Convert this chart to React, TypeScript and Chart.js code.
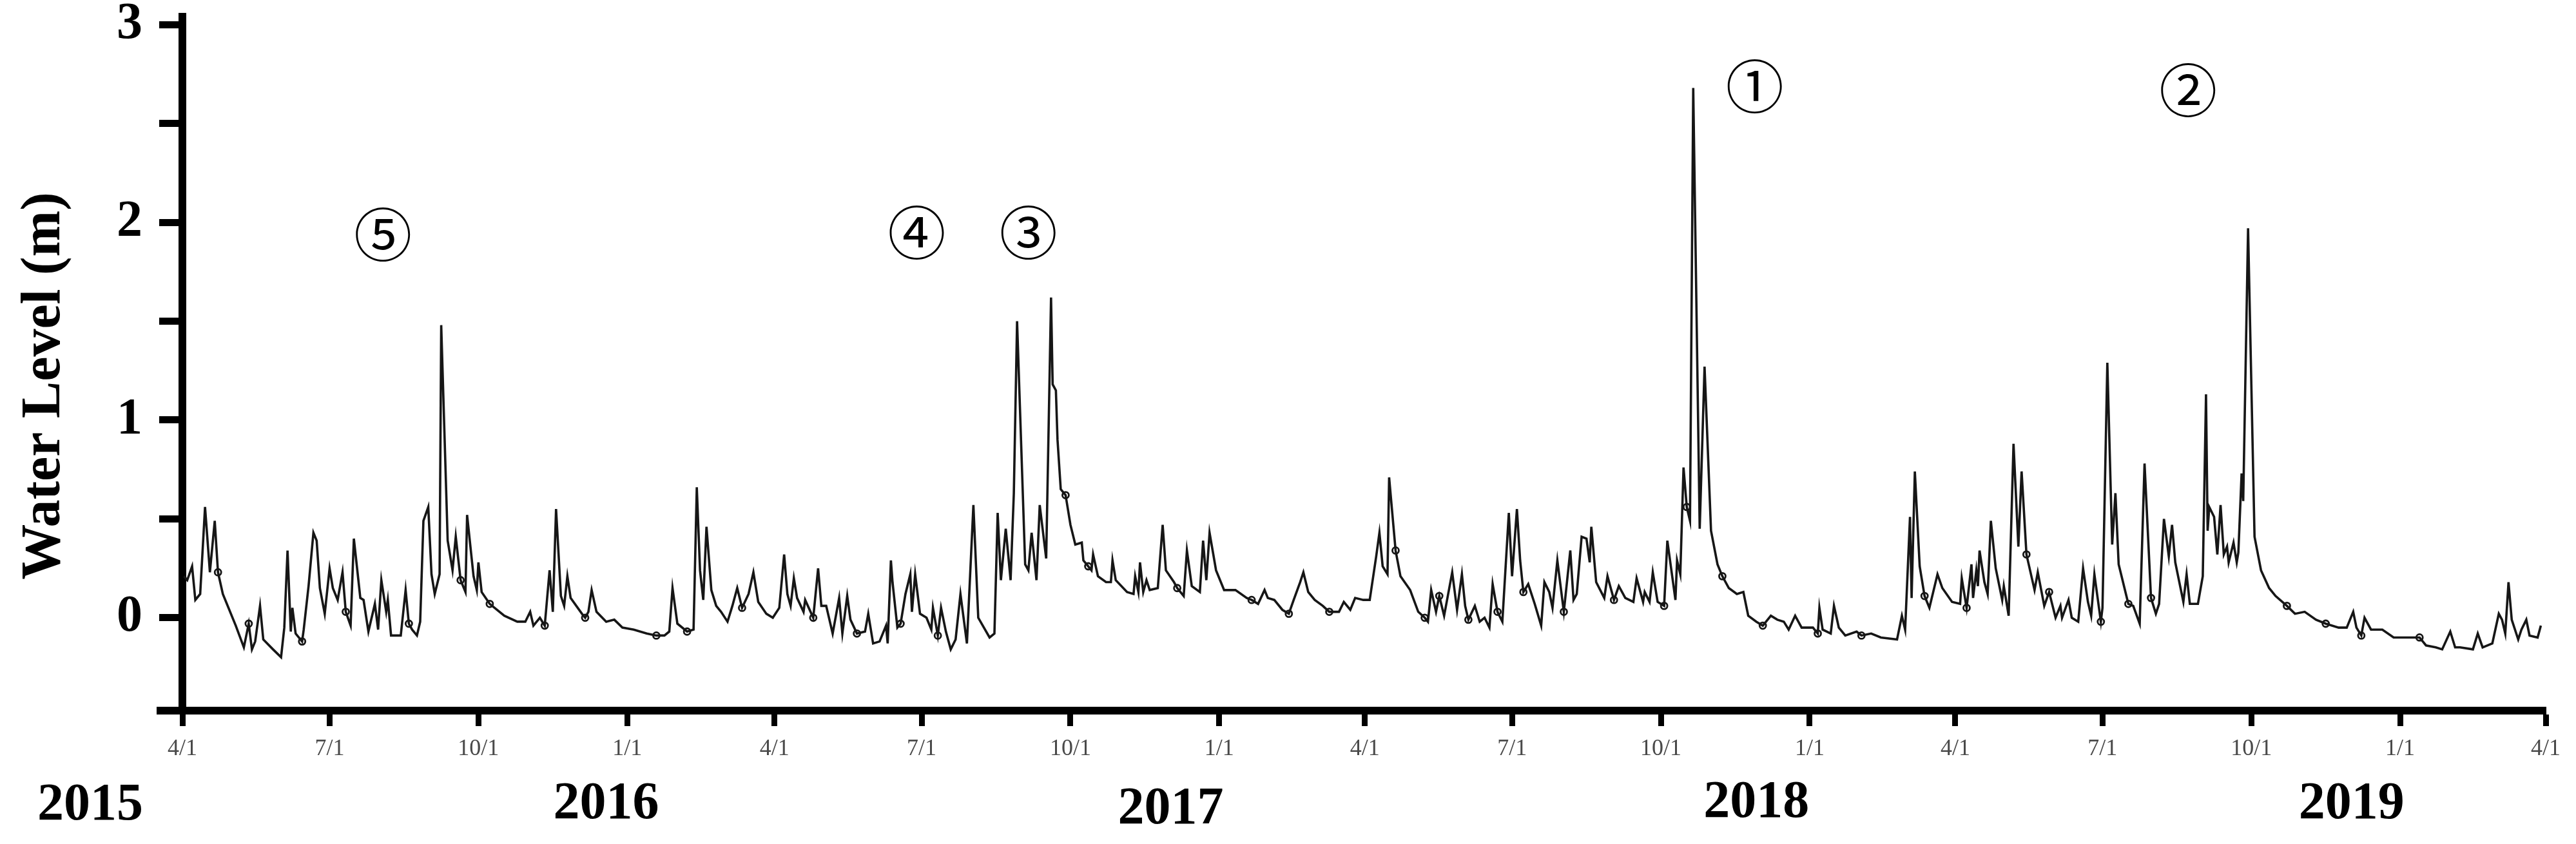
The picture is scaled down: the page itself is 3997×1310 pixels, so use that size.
import React, { useEffect, useRef } from 'react';
import { Chart, registerables } from 'chart.js';

Chart.register(...registerables);

// Time axis: days counted from 1 April 2015
const START_DATE = '2015-04-01';
const END_DATE = '2019-04-01';

const tickDates = [
  '2015-04-01', '2015-07-01', '2015-10-01', '2016-01-01',
  '2016-04-01', '2016-07-01', '2016-10-01', '2017-01-01',
  '2017-04-01', '2017-07-01', '2017-10-01', '2018-01-01',
  '2018-04-01', '2018-07-01', '2018-10-01', '2019-01-01', '2019-04-01',
];
const tickLabels = [
  '4/1', '7/1', '10/1', '1/1', '4/1', '7/1', '10/1', '1/1',
  '4/1', '7/1', '10/1', '1/1', '4/1', '7/1', '10/1', '1/1', '4/1',
];

const yTickValues = [0, 0.5, 1, 1.5, 2, 2.5, 3];

// Water level series (day offset from START_DATE, metres)
const levelDays = [
  1, 3, 6, 8, 11, 14, 17, 20, 22, 25, 33, 38, 41, 43, 45, 48, 50, 56, 61, 63,
  65, 67, 68, 70, 74, 75, 78, 81, 83, 85, 88, 91, 93, 96, 99, 101, 104, 106, 110, 112,
  115, 119, 121, 123, 126, 127, 129, 135, 138, 140, 142, 145, 147, 149, 152, 154, 156, 159, 160, 164,
  167, 169, 172, 175, 176, 180, 182, 183, 185, 190, 199, 207, 212, 215, 217, 221, 224, 227, 229, 231,
  234, 236, 238, 240, 247, 249, 251, 253, 256, 262, 267, 272, 279, 287, 293, 298, 301, 303, 306, 312,
  316, 318, 320, 322, 324, 327, 330, 333, 337, 340, 343, 346, 350, 353, 356, 361, 365, 369, 372, 374,
  376, 378, 380, 384, 385, 390, 393, 395, 398, 402, 406, 408, 411, 413, 417, 422, 424, 427, 431, 435,
  436, 438, 439, 442, 444, 447, 450, 451, 453, 456, 460, 463, 464, 467, 469, 472, 475, 478, 481, 485,
  489, 492, 499, 502, 504, 506, 509, 512, 514, 516, 521, 523, 525, 528, 530, 534, 537, 538, 540, 541,
  543, 546, 549, 552, 556, 557, 560, 562, 563, 566, 571, 574, 575, 577, 584, 588, 589, 591, 592, 594,
  596, 598, 603, 606, 608, 613, 615, 619, 621, 624, 629, 631, 633, 635, 639, 644, 651, 658, 661, 665,
  669, 671, 675, 680, 684, 687, 691, 693, 696, 700, 705, 709, 715, 718, 722, 725, 730, 734, 738, 740,
  742, 745, 746, 750, 753, 759, 764, 768, 770, 772, 775, 777, 780, 785, 788, 791, 793, 795, 799, 802,
  805, 808, 810, 813, 816, 820, 822, 825, 827, 829, 832, 836, 840, 842, 845, 847, 850, 854, 858, 860,
  862, 865, 868, 870, 871, 874, 879, 881, 885, 888, 892, 897, 899, 903, 904, 907, 909, 912, 916, 918,
  923, 924, 926, 928, 930, 932, 934, 938, 941, 945, 949, 952, 956, 961, 965, 968, 973, 977, 982, 986,
  990, 993, 997, 1001, 1008, 1011, 1012, 1014, 1019, 1021, 1024, 1028, 1035, 1038, 1044, 1050, 1060, 1063, 1065, 1068,
  1069, 1071, 1074, 1077, 1080, 1085, 1088, 1094, 1099, 1100, 1103, 1106, 1107, 1109, 1110, 1111, 1114, 1116, 1118, 1121,
  1125, 1126, 1129, 1132, 1135, 1137, 1140, 1145, 1147, 1151, 1154, 1158, 1161, 1162, 1166, 1168, 1172, 1175, 1178, 1180,
  1182, 1186, 1187, 1190, 1193, 1195, 1197, 1203, 1206, 1210, 1213, 1217, 1220, 1222, 1225, 1228, 1230, 1232, 1237, 1239,
  1241, 1246, 1249, 1251, 1252, 1253, 1256, 1258, 1260, 1262, 1264, 1265, 1268, 1270, 1271, 1273, 1274, 1277, 1281, 1285,
  1290, 1294, 1301, 1306, 1312, 1319, 1325, 1333, 1338, 1342, 1344, 1347, 1349, 1353, 1360, 1367, 1374, 1383, 1387, 1393,
  1397, 1402, 1405, 1408, 1416, 1419, 1422, 1428, 1432, 1434, 1436, 1438, 1440, 1444, 1446, 1449, 1451, 1456, 1458,
];
const levelValues = [
  0.21, 0.19, 0.26, 0.09, 0.12, 0.56, 0.23, 0.49, 0.23, 0.12, -0.04, -0.15, -0.03, -0.16, -0.12, 0.06, -0.11, -0.16, -0.2, -0.05,
  0.34, -0.07, 0.05, -0.08, -0.12, -0.06, 0.16, 0.43, 0.39, 0.15, 0.02, 0.25, 0.15, 0.09, 0.23, 0.03, -0.04, 0.4, 0.1, 0.09,
  -0.07, 0.07, -0.06, 0.19, 0.03, 0.09, -0.09, -0.09, 0.14, -0.03, -0.06, -0.09, -0.02, 0.49, 0.56, 0.22, 0.12, 0.22, 1.48, 0.39,
  0.24, 0.41, 0.19, 0.13, 0.52, 0.21, 0.14, 0.28, 0.13, 0.07, 0.01, -0.02, -0.02, 0.03, -0.04, 0.0, -0.04, 0.24, 0.03, 0.55,
  0.11, 0.06, 0.21, 0.1, 0.02, 0.0, 0.03, 0.14, 0.03, -0.02, -0.01, -0.05, -0.06, -0.08, -0.09, -0.09, -0.07, 0.15, -0.03, -0.07,
  -0.06, 0.66, 0.24, 0.09, 0.46, 0.14, 0.06, 0.03, -0.02, 0.06, 0.15, 0.05, 0.12, 0.23, 0.08, 0.02, 0.0, 0.05, 0.32, 0.12,
  0.06, 0.2, 0.1, 0.03, 0.09, 0.0, 0.25, 0.06, 0.06, -0.08, 0.1, -0.08, 0.11, -0.01, -0.08, -0.07, 0.02, -0.13, -0.12, -0.04,
  -0.13, 0.29, 0.18, -0.05, -0.03, 0.12, 0.22, 0.03, 0.22, 0.02, 0.0, -0.06, 0.05, -0.09, 0.05, -0.07, -0.16, -0.11, 0.12, -0.13,
  0.57, 0.0, -0.1, -0.08, 0.53, 0.19, 0.45, 0.19, 0.63, 1.5, 0.27, 0.24, 0.43, 0.19, 0.57, 0.3, 1.62, 1.18, 1.15, 0.9,
  0.65, 0.62, 0.47, 0.37, 0.38, 0.29, 0.26, 0.24, 0.32, 0.21, 0.18, 0.18, 0.29, 0.19, 0.13, 0.12, 0.21, 0.13, 0.28, 0.13,
  0.19, 0.14, 0.15, 0.47, 0.24, 0.18, 0.15, 0.11, 0.34, 0.16, 0.13, 0.39, 0.19, 0.43, 0.24, 0.14, 0.14, 0.1, 0.09, 0.07,
  0.14, 0.1, 0.09, 0.04, 0.02, 0.09, 0.18, 0.23, 0.13, 0.09, 0.06, 0.03, 0.03, 0.08, 0.04, 0.1, 0.09, 0.09, 0.31, 0.43,
  0.26, 0.22, 0.71, 0.34, 0.21, 0.14, 0.03, 0.0, -0.02, 0.14, 0.03, 0.11, 0.01, 0.23, 0.04, 0.22, 0.06, -0.01, 0.06, -0.02,
  0.0, -0.05, 0.17, 0.03, -0.02, 0.53, 0.21, 0.55, 0.29, 0.13, 0.17, 0.07, -0.04, 0.18, 0.13, 0.05, 0.29, 0.03, 0.34, 0.09,
  0.12, 0.41, 0.4, 0.28, 0.46, 0.18, 0.1, 0.21, 0.09, 0.16, 0.1, 0.08, 0.2, 0.08, 0.13, 0.08, 0.23, 0.08, 0.06, 0.39,
  0.09, 0.29, 0.22, 0.76, 0.56, 0.49, 2.68, 0.45, 1.27, 0.44, 0.27, 0.21, 0.15, 0.12, 0.13, 0.01, -0.02, -0.04, 0.01, -0.01,
  -0.02, -0.06, 0.01, -0.05, -0.05, -0.08, 0.05, -0.06, -0.08, 0.06, -0.05, -0.09, -0.07, -0.09, -0.08, -0.1, -0.11, 0.01, -0.06, 0.51,
  0.1, 0.74, 0.26, 0.11, 0.05, 0.22, 0.15, 0.08, 0.07, 0.2, 0.05, 0.27, 0.1, 0.24, 0.16, 0.34, 0.18, 0.12, 0.49, 0.25,
  0.09, 0.16, 0.01, 0.88, 0.36, 0.74, 0.32, 0.14, 0.23, 0.06, 0.13, 0.0, 0.06, 0.0, 0.09, 0.0, -0.02, 0.25, 0.08, 0.01,
  0.22, -0.02, 0.05, 1.29, 0.37, 0.63, 0.27, 0.07, 0.06, -0.03, 0.78, 0.1, 0.02, 0.07, 0.5, 0.31, 0.47, 0.28, 0.08, 0.22,
  0.07, 0.07, 0.21, 1.13, 0.44, 0.56, 0.51, 0.32, 0.57, 0.32, 0.36, 0.28, 0.38, 0.28, 0.33, 0.73, 0.59, 1.97, 0.41, 0.24,
  0.15, 0.11, 0.06, 0.02, 0.03, -0.01, -0.03, -0.05, -0.05, 0.03, -0.05, -0.09, 0.0, -0.06, -0.06, -0.1, -0.1, -0.1, -0.14, -0.15,
  -0.16, -0.07, -0.15, -0.15, -0.16, -0.08, -0.15, -0.13, 0.02, -0.01, -0.08, 0.18, -0.01, -0.11, -0.06, -0.01, -0.09, -0.1, -0.04,
];

// Marked observation points on the curve
const markerDays = [
  22, 41, 74, 101, 140, 172, 190, 224, 249, 293, 312, 346, 390, 417, 444, 467,
  546, 560, 615, 661, 684, 709, 750, 768, 777, 795, 813, 829, 854, 885, 916, 930,
  952, 977, 1011, 1038, 1077, 1103, 1140, 1154, 1186, 1203, 1217, 1301, 1325, 1347, 1383,
];
const markerValues = [
  0.23, -0.03, -0.12, 0.03, -0.03, 0.19, 0.07, -0.04, 0.0, -0.09, -0.07, 0.05, 0.0, -0.08, -0.03, -0.09,
  0.62, 0.26, 0.15, 0.09, 0.02, 0.03, 0.34, 0.0, 0.11, -0.01, 0.03, 0.13, 0.03, 0.09, 0.06, 0.56,
  0.21, -0.04, -0.08, -0.09, 0.11, 0.05, 0.32, 0.13, -0.02, 0.07, 0.1, 0.06, -0.03, -0.09, -0.1,
];

// Year captions under the date axis (anchored by day offset)
const yearLabels = ['2015', '2016', '2017', '2018', '2019'];
const yearLabelDays = [-57, 262, 611, 973, 1341];

// Circled event numbers (day offset, level)
const eventLabels = ['①', '②', '③', '④', '⑤'];
const eventDays = [972, 1240, 523, 454, 124];
const eventLevels = [2.69, 2.67, 1.95, 1.95, 1.94];

const yTitle = 'Water Level (m)';

// ---- layout / style constants ----
const W = 3997;
const H = 1310;
const YEAR_BASELINE_OFFSETS = [169, 167, 175, 165, 167];

const dayOf = (s: string) =>
  Math.round((Date.parse(s) - Date.parse(START_DATE)) / 86400000);

const textPlugin = {
  id: 'textPlugin',
  afterDraw(chart: any) {
    const { ctx, scales, chartArea } = chart;
    const x = scales.x;
    const y = scales.y;
    ctx.save();
    // short stub of the date axis left of the level axis
    ctx.fillStyle = '#000';
    ctx.fillRect(chartArea.left - 40, chartArea.bottom - 6, 40, 12);

    // y-axis title
    ctx.save();
    ctx.translate(92, 599);
    ctx.rotate(-Math.PI / 2);
    ctx.font = 'bold 86px "Liberation Serif"';
    ctx.fillStyle = '#000';
    ctx.textAlign = 'center';
    ctx.textBaseline = 'alphabetic';
    ctx.fillText(yTitle, 0, 0);
    ctx.restore();

    // year captions
    ctx.font = 'bold 82px "Liberation Serif"';
    ctx.fillStyle = '#000';
    ctx.textAlign = 'center';
    ctx.textBaseline = 'alphabetic';
    yearLabels.forEach((t, i) => {
      ctx.fillText(t, x.getPixelForValue(yearLabelDays[i]), chartArea.bottom + YEAR_BASELINE_OFFSETS[i]);
    });

    // circled event numbers
    ctx.font = '90px "Noto Sans CJK JP"';
    ctx.textAlign = 'center';
    ctx.textBaseline = 'middle';
    eventLabels.forEach((t, i) => {
      ctx.fillText(t, x.getPixelForValue(eventDays[i]), y.getPixelForValue(eventLevels[i]));
    });
    ctx.restore();
  },
};

export default function App() {
  const ref = useRef<HTMLCanvasElement | null>(null);

  useEffect(() => {
    if (!ref.current) return;
    const tickDays = tickDates.map(dayOf);
    const chart = new Chart(ref.current, {
      type: 'line',
      data: {
        datasets: [
          {
            label: 'Water level',
            data: levelDays.map((d, i) => ({ x: d, y: levelValues[i] })),
            borderColor: '#161616',
            borderWidth: 3.6,
            pointRadius: 0,
            tension: 0,
            fill: false,
          },
          {
            label: 'Markers',
            data: markerDays.map((d, i) => ({ x: d, y: markerValues[i] })),
            showLine: false,
            pointRadius: 5,
            pointBorderWidth: 2.8,
            pointBorderColor: '#161616',
            pointBackgroundColor: 'rgba(255,255,255,0.5)',
          },
        ],
      },
      options: {
        responsive: false,
        animation: false,
        events: [],
        layout: { padding: { left: 0, right: 47, top: 26, bottom: 0 } },
        plugins: {
          legend: { display: false },
          tooltip: { enabled: false },
        },
        scales: {
          x: {
            type: 'linear',
            min: dayOf(START_DATE),
            max: dayOf(END_DATE),
            afterBuildTicks: (scale: any) => {
              scale.ticks = tickDays.map((v) => ({ value: v }));
            },
            afterFit: (scale: any) => {
              scale.height = 207;
              scale.paddingLeft = 0;
              scale.paddingRight = 0;
            },
            grid: {
              drawOnChartArea: false,
              drawTicks: true,
              tickLength: 24,
              tickWidth: 9,
              tickColor: '#000',
            },
            border: { display: true, color: '#000', width: 12 },
            ticks: {
              autoSkip: false,
              maxRotation: 0,
              padding: 14,
              color: '#4a4a4a',
              font: { family: '"Liberation Serif"', size: 36 },
              callback: (_v: any, i: number) => tickLabels[i],
            },
          },
          y: {
            type: 'linear',
            min: -0.47,
            max: 3.04,
            afterBuildTicks: (scale: any) => {
              scale.ticks = yTickValues.map((v) => ({ value: v }));
            },
            afterFit: (scale: any) => {
              scale.width = 283;
              scale.paddingTop = 0;
              scale.paddingBottom = 0;
            },
            grid: {
              drawOnChartArea: false,
              drawTicks: true,
              tickLength: 36,
              tickWidth: 11,
              tickColor: '#000',
            },
            border: { display: true, color: '#000', width: 12 },
            ticks: {
              padding: 26,
              color: '#000',
              font: { family: '"Liberation Serif"', size: 80, weight: 'bold' },
              callback: (v: any) => (Number.isInteger(v) ? String(v) : ''),
            },
          },
        },
      },
      plugins: [textPlugin],
    });
    return () => chart.destroy();
  }, []);

  return (
    <div style={{ position: 'absolute', left: 0, top: 0, width: W, height: H, background: '#fff' }}>
      <canvas ref={ref} width={W} height={H} style={{ display: 'block', width: W, height: H }} />
    </div>
  );
}
